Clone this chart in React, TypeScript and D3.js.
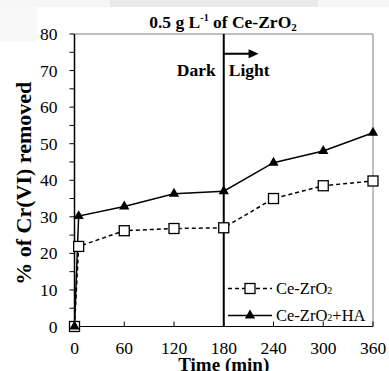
import React from "react";
import * as d3 from "d3";

// time points (min) and % Cr(VI) removed
const times = [0, 5, 60, 120, 180, 240, 300, 360];
const ceZrO2 = [0, 21.9, 26.2, 26.8, 27, 35, 38.5, 39.8];
const ceZrO2HA = [0, 30.2, 32.8, 36.3, 37, 44.8, 48, 53];
const xTicks = [0, 60, 120, 180, 240, 300, 360];
const yTicks = [0, 10, 20, 30, 40, 50, 60, 70, 80];
const yMinor = [5, 15, 25, 35, 45, 55, 65, 75];
const switchTime = 180;
const arrowEnd = 222;
const arrowLevel = 74.6;

const W = 389;
const H = 371;
const margin = { top: 34, right: 16, bottom: 44.5, left: 74.5 };
const serif = "'Liberation Serif', 'Times New Roman', serif";

const App = () => {
  const x = d3.scaleLinear().domain([0, 360]).range([margin.left, W - margin.right]);
  const y = d3.scaleLinear().domain([0, 80]).range([H - margin.bottom, margin.top]);

  const line = d3
    .line<number>()
    .x((_, i) => x(times[i]))
    .y((d) => y(d));

  const tri = d3.symbol(d3.symbolTriangle, 46)() || "";
  const sq = 10;

  const legendX = 228;
  const legendRows = [288.5, 315.5];

  return (
    <svg
      width={W}
      height={H}
      style={{ position: "absolute", left: 0, top: 0, background: "#fff" }}
      fontFamily={serif}
    >
      {/* screenshot artefacts at the top */}
      <rect x={0} y={0} width={W} height={7} fill="#f6f6f6" />
      <rect x={110} y={0} width={208} height={7} fill="#e9e9e9" />
      <rect x={0} y={7} width={37} height={35} fill="#f8f8f8" />

      {/* frame: top/right gray, left/bottom black */}
      <line x1={x(0)} x2={x(360)} y1={y(80)} y2={y(80)} stroke="#808080" strokeWidth={1} />
      <line x1={x(360)} x2={x(360)} y1={y(80)} y2={y(0)} stroke="#808080" strokeWidth={1} />
      <line x1={x(0)} x2={x(0)} y1={y(80)} y2={y(0)} stroke="#000" strokeWidth={1.5} />
      <line x1={x(0)} x2={x(360)} y1={y(0)} y2={y(0)} stroke="#000" strokeWidth={1.2} />

      {/* y ticks */}
      {yTicks.concat(yMinor).map((v) => (
        <line key={"yt" + v} x1={x(0) - 5} x2={x(0)} y1={y(v)} y2={y(v)} stroke="#000" strokeWidth={1} />
      ))}
      {yTicks.map((v) => (
        <text key={"yl" + v} x={x(0) - 17} y={y(v) + 6} textAnchor="end" fontSize={17.5} fill="#000">
          {v}
        </text>
      ))}

      {/* x ticks (inside) */}
      {xTicks.map((v) => (
        <g key={"xt" + v}>
          <line x1={x(v)} x2={x(v)} y1={y(0)} y2={y(0) - 5} stroke="#000" strokeWidth={1} />
          <text x={x(v)} y={y(0) + 27} textAnchor="middle" fontSize={17.5} fill="#000">
            {v}
          </text>
        </g>
      ))}

      {/* dark / light divider */}
      <line x1={x(switchTime)} x2={x(switchTime)} y1={y(80)} y2={y(0)} stroke="#000" strokeWidth={2} />
      <line
        x1={x(switchTime)}
        x2={x(arrowEnd) - 6}
        y1={y(arrowLevel)}
        y2={y(arrowLevel)}
        stroke="#000"
        strokeWidth={2}
      />
      <path d={`M${x(arrowEnd)},${y(arrowLevel)} l-10,-4.5 l0,9 z`} fill="#000" />
      <text x={x(switchTime) - 8} y={75.5} textAnchor="end" fontSize={17.5} fontWeight="bold" fill="#000">
        Dark
      </text>
      <text x={x(switchTime) + 5} y={75.5} fontSize={17.5} fontWeight="bold" fill="#000">
        Light
      </text>

      {/* series */}
      <path d={line(ceZrO2) || ""} fill="none" stroke="#000" strokeWidth={1.5} strokeDasharray="4 3" />
      <path d={line(ceZrO2HA) || ""} fill="none" stroke="#000" strokeWidth={1.5} />
      {ceZrO2.map((v, i) => (
        <rect
          key={"s" + i}
          x={x(times[i]) - sq / 2}
          y={y(v) - sq / 2}
          width={sq}
          height={sq}
          fill="#fff"
          stroke="#000"
          strokeWidth={1.3}
        />
      ))}
      {ceZrO2HA.map((v, i) => (
        <path key={"t" + i} d={tri} transform={`translate(${x(times[i])},${y(v)})`} fill="#000" />
      ))}

      {/* legend */}
      <line x1={legendX} x2={legendX + 44} y1={legendRows[0]} y2={legendRows[0]} stroke="#000" strokeWidth={1.5} strokeDasharray="4 3" />
      <rect x={legendX + 22 - sq / 2} y={legendRows[0] - sq / 2} width={sq} height={sq} fill="#fff" stroke="#000" strokeWidth={1.3} />
      <text x={legendX + 48} y={legendRows[0] + 5.5} fontSize={16.5} fill="#000">
        Ce-ZrO<tspan fontSize={10}>2</tspan>
      </text>
      <line x1={legendX} x2={legendX + 44} y1={legendRows[1]} y2={legendRows[1]} stroke="#000" strokeWidth={1.5} />
      <path d={tri} transform={`translate(${legendX + 22},${legendRows[1]})`} fill="#000" />
      <text x={legendX + 48} y={legendRows[1] + 5.5} fontSize={16.5} fill="#000">
        Ce-ZrO<tspan fontSize={10}>2</tspan>+HA
      </text>

      {/* title */}
      <text x={223} y={27.5} textAnchor="middle" fontSize={17.5} fontWeight="bold" fill="#000">
        0.5 g L<tspan fontSize={10} dy={-6.5}>-1</tspan>
        <tspan dy={6.5}> of Ce-ZrO</tspan>
        <tspan fontSize={11} dy={3}>2</tspan>
      </text>

      {/* axis titles */}
      <text
        transform={`translate(31,${(y(0) + y(80)) / 2 + 3}) rotate(-90)`}
        textAnchor="middle"
        fontSize={22}
        fontWeight="bold"
        fill="#000"
      >
        % of Cr(VI) removed
      </text>
      <text x={x(180)} y={370.5} textAnchor="middle" fontSize={19} fontWeight="bold" fill="#000">
        Time (min)
      </text>
    </svg>
  );
};

export default App;
